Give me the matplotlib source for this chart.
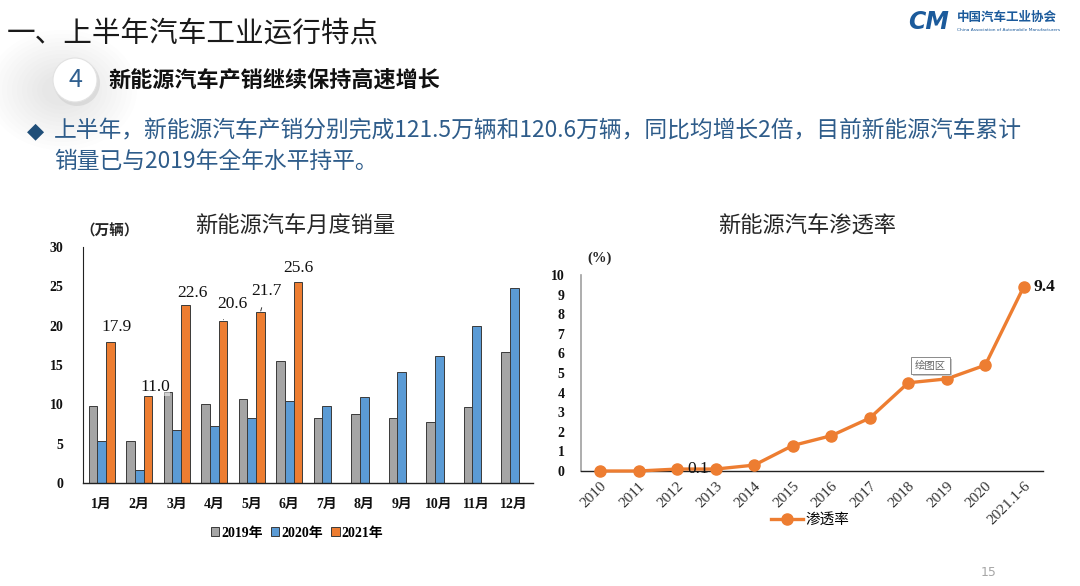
import matplotlib
matplotlib.use("Agg")
import matplotlib.pyplot as plt
import numpy as np
from matplotlib.patches import Ellipse, Rectangle

# ---- data ----
months = ["1月", "2月", "3月", "4月", "5月", "6月", "7月", "8月", "9月", "10月", "11月", "12月"]
sales_2019 = [9.8, 5.4, 11.6, 10.0, 10.7, 15.5, 8.3, 8.8, 8.3, 7.8, 9.7, 16.6]
sales_2020 = [5.3, 1.7, 6.7, 7.3, 8.3, 10.4, 9.8, 10.9, 14.1, 16.1, 20.0, 24.8]
sales_2021 = [17.9, 11.0, 22.6, 20.6, 21.7, 25.6, None, None, None, None, None, None]
series_names = ["2019年", "2020年", "2021年"]

years = ["2010", "2011", "2012", "2013", "2014", "2015", "2016", "2017",
         "2018", "2019", "2020", "2021.1-6"]
penetration = [0.0, 0.0, 0.1, 0.1, 0.3, 1.3, 1.8, 2.7, 4.5, 4.7, 5.4, 9.4]

# ---- styles ----
GRAY = "#A5A5A5"
BLUE = "#5B9BD5"
ORANGE = "#ED7D31"
TEXT_BLUE = "#2E5C8A"
CJK = ["Noto Sans CJK SC", "DejaVu Sans"]
SERIF = ["Liberation Serif", "Noto Sans CJK SC", "DejaVu Sans"]

plt.rcParams["font.family"] = SERIF

W, H = 1080, 586
fig = plt.figure(figsize=(W / 100, H / 100), dpi=100)
fig.patch.set_facecolor("white")


def fx(px):
    return px / W


def fy(py):
    return 1 - py / H


# ---- slide header ----
# soft glow behind the numbered circle
for r in np.linspace(75, 20, 12):
    fig.patches.append(Ellipse((fx(62), fy(90)), fx(r * 2), r * 1.6 / H,
                               transform=fig.transFigure, facecolor="#9A9A9A",
                               edgecolor="none", alpha=0.015))
fig.text(fx(7), fy(35), "一、上半年汽车工业运行特点", family=CJK, fontsize=20.6,
         color="#1A1A1A", va="center", ha="left")
fig.patches.append(Ellipse((fx(77), fy(83)), fx(46), 46 / H, transform=fig.transFigure,
                           facecolor="#CFCFCF", edgecolor="none", alpha=0.6))
fig.patches.append(Ellipse((fx(75), fy(80)), fx(44), 44 / H, transform=fig.transFigure,
                           facecolor="white", edgecolor="#E2E2E2", linewidth=0.8))
fig.text(fx(75), fy(80), "4", family=CJK, fontsize=18, color="#2F5F8F",
         ha="center", va="center")
fig.text(fx(108), fy(80), "新能源汽车产销继续保持高速增长", family=CJK, fontsize=15.9,
         fontweight="bold", color="#111111", ha="left", va="center")
fig.text(fx(27), fy(131), "◆", family=["DejaVu Sans"], fontsize=16, color="#1F4E79",
         ha="left", va="center")
fig.text(fx(54), fy(131),
         "上半年，新能源汽车产销分别完成121.5万辆和120.6万辆，同比均增长2倍，目前新能源汽车累计",
         family=CJK, fontsize=16.4, color=TEXT_BLUE, ha="left", va="center")
fig.text(fx(54), fy(161), "销量已与2019年全年水平持平。", family=CJK, fontsize=16.4,
         color=TEXT_BLUE, ha="left", va="center")

# logo
fig.text(fx(908), fy(22), "CM", family=["DejaVu Sans"], fontsize=17, fontweight="bold",
         fontstyle="italic", color="#1B5A9B", ha="left", va="center")
fig.text(fx(957), fy(17), "中国汽车工业协会", family=CJK, fontsize=9, fontweight="bold",
         color="#1B5A9B", ha="left", va="center")
fig.text(fx(957), fy(30), "China Association of Automobile Manufacturers",
         family=["DejaVu Sans"], fontsize=3.2, color="#1B5A9B", ha="left", va="center")

fig.text(fx(989), fy(573), "15", family=["DejaVu Sans"], fontsize=9, color="#A6A6A6",
         ha="center", va="center")

# ---- left chart: monthly sales ----
ax1 = fig.add_axes([fx(83), 1 - 483 / H, fx(450), 236 / H])
x = np.arange(len(months))
bw = 0.23
v21 = [np.nan if v is None else v for v in sales_2021]
b1 = ax1.bar(x - bw, sales_2019, bw, color=GRAY, edgecolor="#3A3A3A", linewidth=0.7,
             label=series_names[0])
b2 = ax1.bar(x, sales_2020, bw, color=BLUE, edgecolor="#3A3A3A", linewidth=0.7,
             label=series_names[1])
b3 = ax1.bar(x + bw, v21, bw, color=ORANGE, edgecolor="#3A3A3A", linewidth=0.7,
             label=series_names[2])
ax1.set_xlim(-0.5, len(months) - 0.5)
ax1.set_ylim(0, 30)
ax1.set_yticks(range(0, 31, 5))
ax1.set_xticks(x)
ax1.set_xticklabels(months)
ax1.tick_params(length=0, labelsize=10, pad=11)
ax1.tick_params(axis="y", pad=14)
for lab in ax1.get_xticklabels() + ax1.get_yticklabels():
    lab.set_fontweight("bold")
    lab.set_color("#111111")
for s in ["top", "right"]:
    ax1.spines[s].set_visible(False)
ax1.spines["left"].set_color("#222222")
ax1.spines["left"].set_linewidth(0.8)
ax1.spines["bottom"].set_color("#222222")
ax1.spines["bottom"].set_linewidth(1.0)

# label offsets in pixels (dx, dy) from top of each 2021 bar; leader flag
label_offsets = [(6, 15, False), (7, 9, False), (7, 12, False),
                 (9, 17, True), (6, 21, True), (1, 14, False)]
for i, v in enumerate(sales_2021):
    if v is None:
        continue
    dx, dy, leader = label_offsets[i]
    ax1.annotate(f"{v:.1f}", xy=(x[i] + bw, v), xytext=(dx, dy), textcoords="offset pixels",
                 ha="center", va="center", fontsize=12.5, color="#111111",
                 bbox=dict(facecolor="white", edgecolor="none", alpha=0.5, pad=0.3),
                 arrowprops=dict(arrowstyle="-", color="#333333", lw=0.7,
                                 shrinkA=6, shrinkB=1) if leader else None)

ax1.legend(handles=[b1, b2, b3], loc="center", bbox_to_anchor=(fx(297), fy(533)),
           bbox_transform=fig.transFigure, ncol=3, frameon=False, handlelength=0.6,
           handleheight=0.6, handletextpad=0.15, columnspacing=0.6,
           prop=dict(family=SERIF, size=10, weight="bold"))

fig.text(fx(295), fy(226), "新能源汽车月度销量", family=CJK, fontsize=16,
         color="#262626", ha="center", va="center")
fig.text(fx(80), fy(231), "（万辆）", family=CJK, fontsize=10.5, fontweight="bold",
         color="#262626", ha="left", va="center")

# ---- right chart: penetration ----
ax2 = fig.add_axes([fx(581), 1 - 471 / H, fx(462), 196 / H])
xp = np.arange(len(years))
line, = ax2.plot(xp, penetration, color=ORANGE, linewidth=2.4, marker="o",
                 markersize=8, label="渗透率", zorder=3, clip_on=False)
ax2.set_xlim(-0.5, len(years) - 0.5)
ax2.set_ylim(0, 10)
ax2.set_yticks(range(0, 11))
ax2.set_xticks(xp)
ax2.set_xticklabels(years, rotation=45, ha="right", rotation_mode="anchor")
ax2.tick_params(length=0, labelsize=10)
ax2.tick_params(axis="x", labelsize=11, pad=6)
ax2.tick_params(axis="y", pad=12)
for lab in ax2.get_yticklabels():
    lab.set_fontweight("bold")
    lab.set_color("#111111")
for lab in ax2.get_xticklabels():
    lab.set_color("#333333")
for s in ["top", "right"]:
    ax2.spines[s].set_visible(False)
ax2.spines["left"].set_color("#A0A0A0")
ax2.spines["left"].set_linewidth(1.2)
ax2.spines["bottom"].set_color("#222222")
ax2.spines["bottom"].set_linewidth(1.0)

ax2.annotate(f"{penetration[2]:.1f}", xy=(xp[2], penetration[2]), xytext=(10, 0),
             textcoords="offset pixels", ha="left", va="center", fontsize=12.5,
             color="#111111", zorder=4)
ax2.annotate(f"{penetration[-1]:.1f}", xy=(xp[-1], penetration[-1]), xytext=(10, 0),
             textcoords="offset pixels", ha="left", va="center", fontsize=12.5,
             fontweight="bold", color="#111111")

ax2.legend(handles=[line], loc="center", bbox_to_anchor=(fx(810), fy(520)),
           bbox_transform=fig.transFigure, frameon=False, handlelength=2.2,
           handletextpad=0.2, prop=dict(family=CJK, size=10.5))

fig.text(fx(807), fy(226), "新能源汽车渗透率", family=CJK, fontsize=16,
         color="#262626", ha="center", va="center")
fig.text(fx(587), fy(258), "(%)", family=SERIF, fontsize=10.5, fontweight="bold",
         color="#262626", ha="left", va="center")

# tooltip artefact "绘图区"
fig.patches.append(Rectangle((fx(913), fy(376)), fx(39), 17 / H, transform=fig.transFigure,
                             facecolor="#C8C8C8", edgecolor="none", zorder=5))
fig.patches.append(Rectangle((fx(911), fy(374)), fx(39), 17 / H, transform=fig.transFigure,
                             facecolor="white", edgecolor="#8A8A8A", linewidth=0.7,
                             zorder=6))
fig.text(fx(930.5), fy(365.5), "绘图区", family=CJK, fontsize=7.5, color="#666666",
         ha="center", va="center", zorder=7)

fig.savefig("out.png", dpi=100, facecolor="white")
